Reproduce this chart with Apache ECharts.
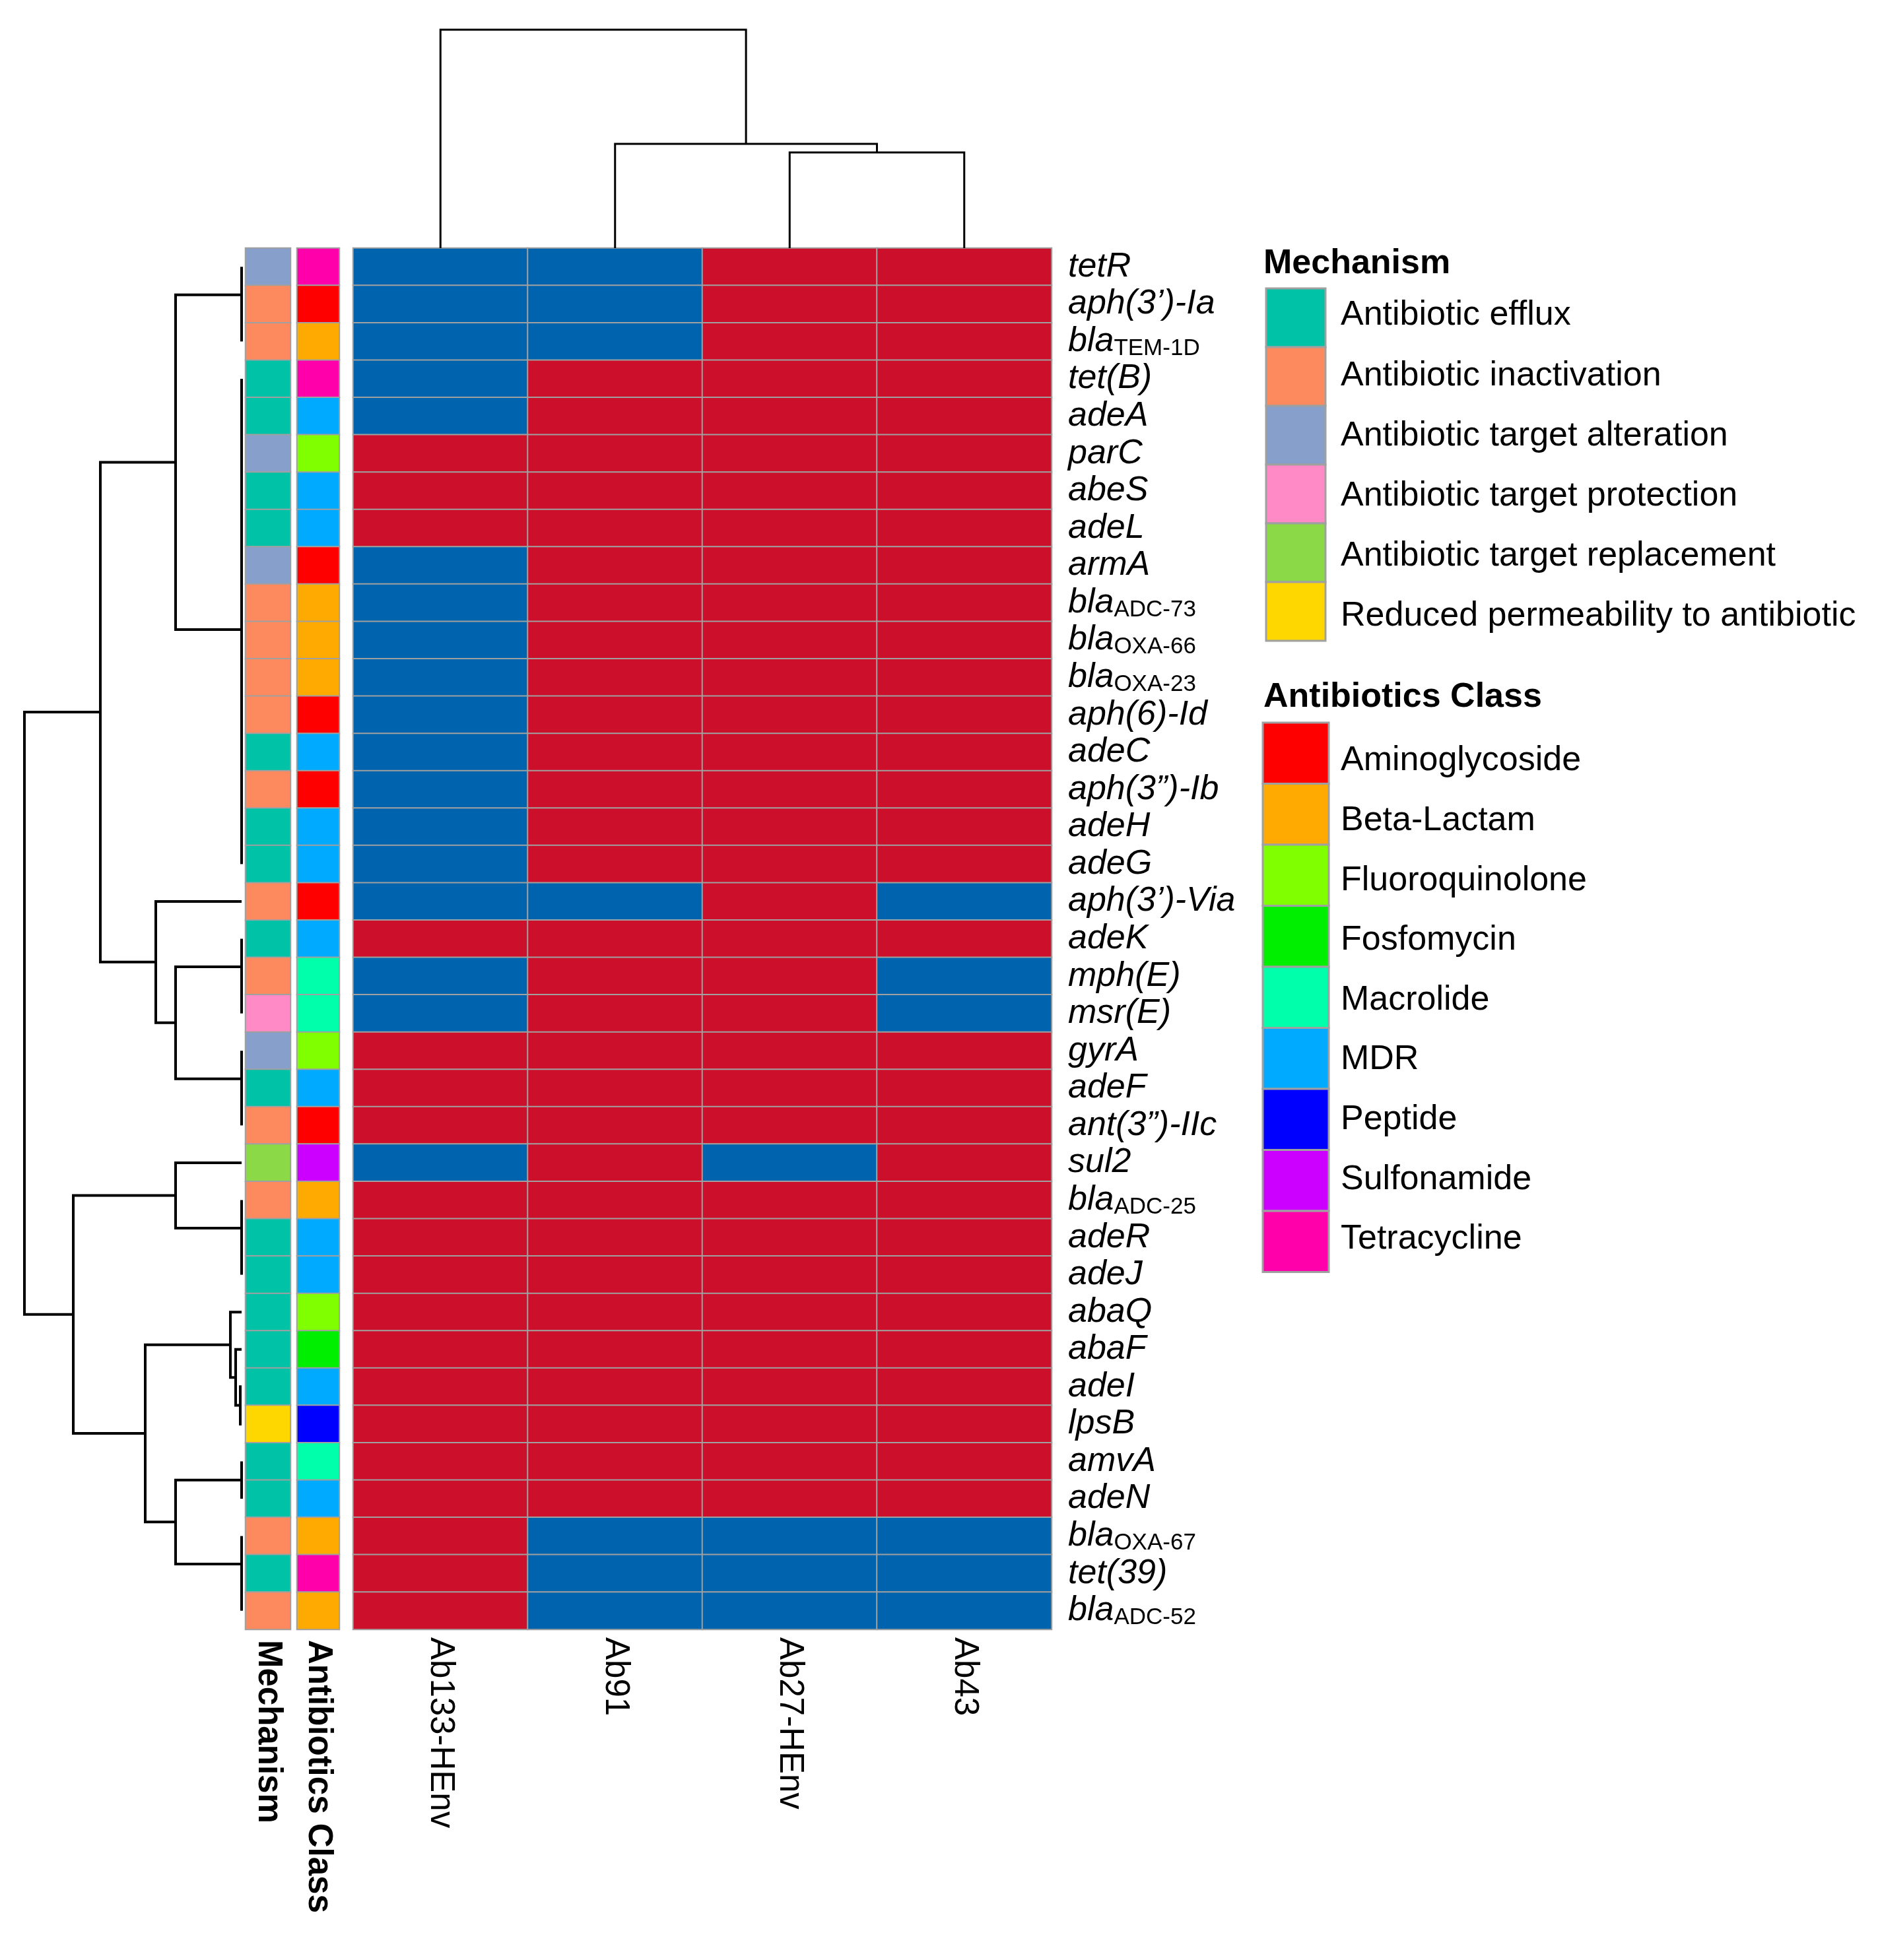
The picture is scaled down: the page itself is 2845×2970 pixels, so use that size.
<!DOCTYPE html>
<html><head><meta charset="utf-8">
<script src="https://cdn.jsdelivr.net/npm/echarts@6/dist/echarts.min.js"></script>
<style>html,body{margin:0;padding:0;background:#fff}#c{width:2845px;height:2970px}</style>
</head><body><div id="c"></div>
<script>
// ---------------- data ----------------
const samples = ['Ab133-HEnv', 'Ab91', 'Ab27-HEnv', 'Ab43'];
const genes = ['tetR', 'aph(3’)-Ia', 'blaTEM-1D', 'tet(B)', 'adeA', 'parC', 'abeS', 'adeL', 'armA',
  'blaADC-73', 'blaOXA-66', 'blaOXA-23', 'aph(6)-Id', 'adeC', 'aph(3”)-Ib', 'adeH', 'adeG',
  'aph(3’)-Via', 'adeK', 'mph(E)', 'msr(E)', 'gyrA', 'adeF', 'ant(3”)-IIc', 'sul2', 'blaADC-25',
  'adeR', 'adeJ', 'abaQ', 'abaF', 'adeI', 'lpsB', 'amvA', 'adeN', 'blaOXA-67', 'tet(39)', 'blaADC-52'];
// 1 = red, 0 = blue ; columns follow `samples`
const presence = [
  [0,0,1,1],[0,0,1,1],[0,0,1,1],[0,1,1,1],[0,1,1,1],[1,1,1,1],[1,1,1,1],[1,1,1,1],[0,1,1,1],
  [0,1,1,1],[0,1,1,1],[0,1,1,1],[0,1,1,1],[0,1,1,1],[0,1,1,1],[0,1,1,1],[0,1,1,1],
  [0,0,1,0],[1,1,1,1],[0,1,1,0],[0,1,1,0],[1,1,1,1],[1,1,1,1],[1,1,1,1],[0,1,0,1],[1,1,1,1],
  [1,1,1,1],[1,1,1,1],[1,1,1,1],[1,1,1,1],[1,1,1,1],[1,1,1,1],[1,1,1,1],[1,1,1,1],[1,0,0,0],[1,0,0,0],[1,0,0,0]
];
const mechanisms = ['Antibiotic efflux', 'Antibiotic inactivation', 'Antibiotic target alteration',
  'Antibiotic target protection', 'Antibiotic target replacement', 'Reduced permeability to antibiotic'];
const mechColors = ['#00C2A7', '#FC8A5E', '#879FCB', '#FF8AC6', '#8BD946', '#FFD700'];
const geneMech = [2,1,1,0,0,2,0,0,2,1,1,1,1,0,1,0,0,1,0,1,3,2,0,1,4,1,0,0,0,0,0,5,0,0,1,0,1];
const classes = ['Aminoglycoside', 'Beta-Lactam', 'Fluoroquinolone', 'Fosfomycin', 'Macrolide', 'MDR',
  'Peptide', 'Sulfonamide', 'Tetracycline'];
const classColors = ['#FF0000', '#FFAA00', '#80FF00', '#00EE00', '#00FFAA', '#00AAFF', '#0000FF', '#CC00FF', '#FF00AA'];
const geneClass = [8,0,1,8,5,2,5,5,0,1,1,1,0,5,0,5,5,0,5,4,4,2,5,0,7,1,5,5,2,3,5,6,4,5,1,8,1];
const heatColors = ['#0063AD', '#CC0F2A'];
// dendrograms: [height, left, right]; leaves = row / column index
const rowTree = [3.29,
  [2.14,
    [1.0, [0, 0, [0, 1, 2]],
      [0, [0, [0, [0, 3, 4], 5], [0, 6, [0, 7, 8]]],
          [0, [0, [0, [0, 9, 10], 11], [0, [0, 12, 13], [0, 14, 15]]], 16]]],
    [1.30, 17, [1.0, [0, 18, [0, 19, 20]], [0, 21, [0, 22, 23]]]]],
  [2.55,
    [1.0, 24, [0, 25, [0, 26, 27]]],
    [1.46, [0.17, 28, [0.09, 29, [0.02, 30, 31]]],
      [1.0, [0, 32, 33], [0, 34, [0, 35, 36]]]]]
];
const colTree = [3.31, 0, [1.58, 1, [1.45, 2, 3]]];

// ---------------- build ----------------
function layoutTree(node, out) {
  if (typeof node === 'number') return { pos: node, h: 0 };
  const h = node[0];
  const a = layoutTree(node[1], out), b = layoutTree(node[2], out);
  out.push([[a.h, a.pos], [h, a.pos], [h, b.pos], [b.h, b.pos]]);
  return { pos: (a.pos + b.pos) / 2, h: h };
}
const rowSegs = []; layoutTree(rowTree, rowSegs);
const colSegsRaw = []; layoutTree(colTree, colSegsRaw);
const colSegs = colSegsRaw.map(s => s.map(p => [p[1], p[0]]));

const heatData = [];
presence.forEach((row, r) => row.forEach((v, c) => heatData.push([c, r, v])));
const mechData = geneMech.map((m, r) => [0, r, m]);
const classData = geneClass.map((m, r) => [0, r, m]);

const FONT = 'Liberation Sans, Arial, sans-serif';
const G = { top: 376, height: 2093 };
const hidden = { show: false };
function hiddenAxis(extra) {
  return Object.assign({ axisLine: hidden, axisTick: hidden, axisLabel: hidden, splitLine: hidden }, extra);
}

const legendGraphics = [];
function addLegend(title, names, colors, titleY, boxX, boxW, boxTop, boxH, labelY0, labelStep) {
  legendGraphics.push({ type: 'text', x: 1914, y: titleY,
    style: { text: title, fontFamily: FONT, fontSize: 52, fontWeight: 'bold', fill: '#000', verticalAlign: 'middle', align: 'left' } });
  names.forEach((n, i) => {
    legendGraphics.push({ type: 'rect', shape: { x: boxX, y: boxTop + i * boxH, width: boxW, height: boxH },
      style: { fill: colors[i], stroke: '#A0A0A0', lineWidth: 3 } });
    legendGraphics.push({ type: 'text', x: 2031, y: labelY0 + i * labelStep,
      style: { text: n, fontFamily: FONT, fontSize: 52, fill: '#000', verticalAlign: 'middle', align: 'left' } });
  });
}
addLegend('Mechanism', mechanisms, mechColors, 400, 1918, 90, 437, 89, 478, 91.2);
addLegend('Antibiotics Class', classes, classColors, 1057, 1913, 100, 1095, 92.5, 1153, 90.6);

const cellStyle = { borderColor: '#A0A0A0', borderWidth: 2 };

const option = {
  animation: false,
  backgroundColor: '#ffffff',
  textStyle: { fontFamily: FONT },
  grid: [
    { left: 535, top: G.top, width: 1058, height: G.height },
    { left: 372, top: G.top, width: 68, height: G.height },
    { left: 450, top: G.top, width: 64, height: G.height },
    { left: 26, top: G.top, width: 346, height: G.height },
    { left: 535, top: 36, width: 1058, height: 340 }
  ],
  xAxis: [
    { type: 'category', gridIndex: 0, data: samples, position: 'bottom',
      axisLine: hidden, axisTick: hidden, splitLine: hidden,
      axisLabel: { rotate: -90, fontSize: 51, color: '#000', margin: 12, fontFamily: FONT } },
    { type: 'category', gridIndex: 1, data: ['Mechanism'], axisLine: hidden, axisTick: hidden,
      axisLabel: { rotate: -90, fontSize: 51, fontWeight: 'bold', color: '#000', margin: 16, fontFamily: FONT } },
    { type: 'category', gridIndex: 2, data: ['Antibiotics Class'], axisLine: hidden, axisTick: hidden,
      axisLabel: { rotate: -90, fontSize: 51, fontWeight: 'bold', color: '#000', margin: 16, fontFamily: FONT } },
    hiddenAxis({ type: 'value', gridIndex: 3, min: -0.06, max: 3.4, inverse: true }),
    hiddenAxis({ type: 'value', gridIndex: 4, min: -0.5, max: 3.5 })
  ],
  yAxis: [
    { type: 'category', gridIndex: 0, data: genes, inverse: true, position: 'right',
      axisLine: hidden, axisTick: hidden, splitLine: hidden,
      axisLabel: { margin: 25, color: '#000',
        formatter: function (v) {
          const m = v.match(/^bla(.+)$/);
          return m ? '{i|bla}{s|' + m[1] + '}' : '{i|' + v + '}';
        },
        rich: {
          i: { fontFamily: FONT, fontStyle: 'italic', fontSize: 52, color: '#000', lineHeight: 56 },
          s: { fontFamily: FONT, fontStyle: 'normal', fontSize: 35, color: '#000', lineHeight: 24, verticalAlign: 'bottom' }
        } } },
    hiddenAxis({ type: 'category', gridIndex: 1, data: genes, inverse: true }),
    hiddenAxis({ type: 'category', gridIndex: 2, data: genes, inverse: true }),
    hiddenAxis({ type: 'value', gridIndex: 3, min: -0.5, max: 36.5, inverse: true }),
    hiddenAxis({ type: 'value', gridIndex: 4, min: 0, max: 3.4 })
  ],
  visualMap: [
    { type: 'piecewise', show: false, seriesIndex: 0, dimension: 2,
      pieces: heatColors.map((c, i) => ({ value: i, color: c })) },
    { type: 'piecewise', show: false, seriesIndex: 1, dimension: 2,
      pieces: mechColors.map((c, i) => ({ value: i, color: c })) },
    { type: 'piecewise', show: false, seriesIndex: 2, dimension: 2,
      pieces: classColors.map((c, i) => ({ value: i, color: c })) }
  ],
  series: [
    { type: 'heatmap', xAxisIndex: 0, yAxisIndex: 0, data: heatData, itemStyle: cellStyle, silent: true, emphasis: { disabled: true } },
    { type: 'heatmap', xAxisIndex: 1, yAxisIndex: 1, data: mechData, itemStyle: cellStyle, silent: true, emphasis: { disabled: true } },
    { type: 'heatmap', xAxisIndex: 2, yAxisIndex: 2, data: classData, itemStyle: cellStyle, silent: true, emphasis: { disabled: true } },
    { type: 'lines', coordinateSystem: 'cartesian2d', xAxisIndex: 3, yAxisIndex: 3, polyline: true, clip: false, silent: true,
      data: rowSegs.map(c => ({ coords: c })), lineStyle: { color: '#000', width: 4, opacity: 1 } },
    { type: 'lines', coordinateSystem: 'cartesian2d', xAxisIndex: 4, yAxisIndex: 4, polyline: true, clip: false, silent: true,
      data: colSegs.map(c => ({ coords: c })), lineStyle: { color: '#000', width: 3, opacity: 1 } }
  ],
  graphic: legendGraphics
};
const chart = echarts.init(document.getElementById('c'));
chart.setOption(option);
</script>
</body></html>
